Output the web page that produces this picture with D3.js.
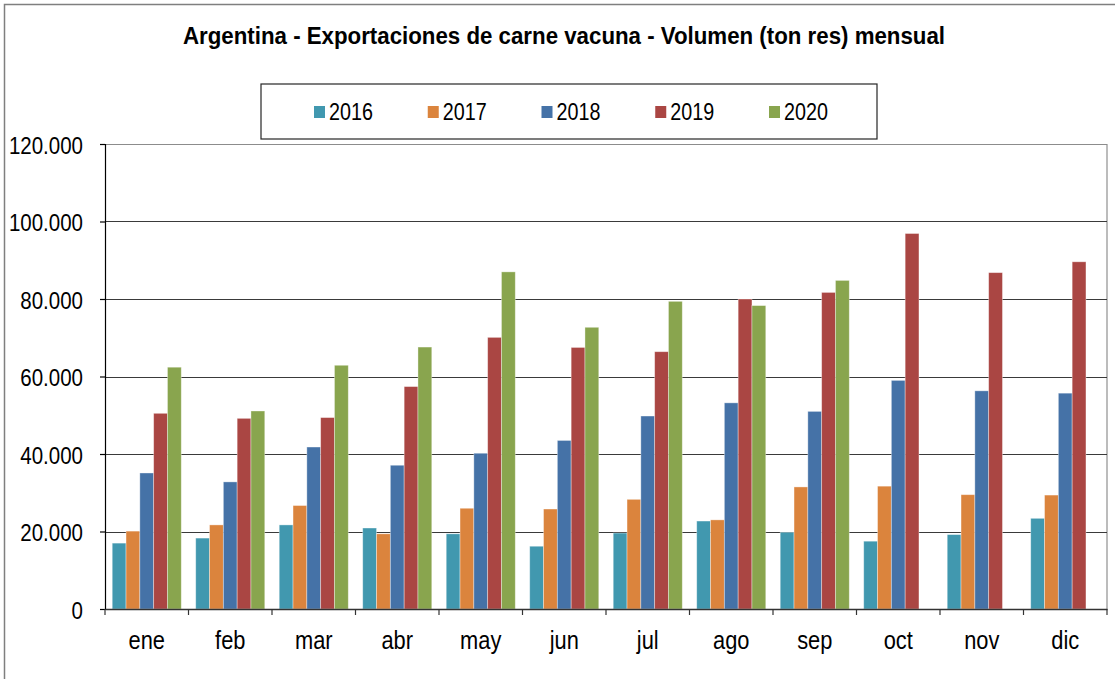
<!DOCTYPE html>
<html>
<head>
<meta charset="utf-8">
<script src="https://cdn.jsdelivr.net/npm/d3@7"></script>
<style>
  html, body { margin: 0; padding: 0; background: #fff; }
  svg { display: block; }
  text { font-family: "Liberation Sans Narrow", "Arial Narrow", "Liberation Sans", Arial, sans-serif; fill: #000; }
</style>
</head>
<body>
<svg id="chart" width="1115" height="679"></svg>
<script>
const titleText = "Argentina - Exportaciones de carne vacuna - Volumen (ton res) mensual";
const months = ["ene","feb","mar","abr","may","jun","jul","ago","sep","oct","nov","dic"];
const seriesNames = ["2016","2017","2018","2019","2020"];
const seriesColors = ["#4198AF","#DB843D","#4572A7","#AA4643","#89A54E"];
const v2016 = [17000,18300,21700,20900,19400,16200,19600,22700,19800,17500,19200,23400];
const v2017 = [20100,21700,26700,19400,26000,25800,28300,23000,31500,31700,29500,29400];
const v2018 = [35100,32800,41800,37100,40200,43500,49800,53200,51000,59000,56300,55700];
const v2019 = [50500,49200,49400,57400,70100,67500,66400,80000,81700,96900,86800,89600];
const v2020 = [62400,51100,62900,67600,87000,72700,79400,78300,84800,null,null,null];
const yTicks = [0,20000,40000,60000,80000,100000,120000];

const seriesValues = [v2016, v2017, v2018, v2019, v2020];

const svg = d3.select("#chart");
const W = 1115, H = 679;
const plot = {left: 105, right: 1107, top: 144, bottom: 609};
const FONT = '"Liberation Sans Narrow", "Arial Narrow", "Liberation Sans", Arial, sans-serif';

// condense text horizontally if a narrow face is not available
const probe = svg.append("text").attr("font-size", 100).style("font-family", FONT).text("0000000000");
const probeW = probe.node().getComputedTextLength();
probe.remove();
const narrowAvailable = probeW < 500; // narrow digits ~0.456em, regular ~0.556em
function condense(sel, ratio) {
  if (narrowAvailable) return;
  sel.each(function() {
    const w = this.getComputedTextLength();
    d3.select(this).attr("textLength", w * ratio).attr("lengthAdjust", "spacingAndGlyphs");
  });
}

// outer frame (cropped at right/bottom)
svg.append("rect").attr("x", 4.5).attr("y", 4.5).attr("width", W + 10).attr("height", H + 10)
  .attr("fill", "#fff").attr("stroke", "#7f7f7f").attr("stroke-width", 1.5);

const x0 = d3.scaleBand().domain(months).range([plot.left, plot.right]).paddingInner(0).paddingOuter(0);
const bw = x0.bandwidth();
const x1 = d3.scaleBand().domain(seriesNames).range([bw * 0.0865, bw * (1 - 0.0865)]).padding(0);
const y = d3.scaleLinear().domain([0, 120000]).range([plot.bottom, plot.top]);

const loc = d3.formatLocale({decimal: ",", thousands: ".", grouping: [3], currency: ["$", ""]});
const fmt = loc.format(",d");

// plot border (right side gray)
svg.append("line").attr("x1", plot.right).attr("x2", plot.right).attr("y1", plot.top).attr("y2", plot.bottom)
  .attr("stroke", "#a6a6a6").attr("stroke-width", 1.5);

// gridlines
svg.append("g").selectAll("line").data(yTicks.filter(d => d > 0)).join("line")
  .attr("x1", plot.left).attr("x2", plot.right)
  .attr("y1", d => Math.round(y(d)) + 0.5).attr("y2", d => Math.round(y(d)) + 0.5)
  .attr("stroke", d => d === 120000 ? "#8c8c8c" : "#3a3a3a").attr("stroke-width", 1.1);

// bars
const data = [];
months.forEach((m, i) => {
  seriesNames.forEach((s, j) => {
    const v = seriesValues[j][i];
    if (v != null) data.push({m, s, v, c: seriesColors[j]});
  });
});
svg.append("g").selectAll("rect").data(data).join("rect")
  .attr("x", d => x0(d.m) + x1(d.s))
  .attr("width", x1.bandwidth())
  .attr("y", d => y(d.v))
  .attr("height", d => y(0) - y(d.v))
  .attr("fill", d => d.c)
  .attr("stroke", "#ffffff").attr("stroke-opacity", 0.45).attr("stroke-width", 0.8);

// y axis
const yAxis = d3.axisLeft(y).tickValues(yTicks).tickFormat(fmt).tickSize(5).tickPadding(17);
const gy = svg.append("g").attr("transform", `translate(${plot.left},0)`).call(yAxis);
gy.select(".domain").attr("stroke", "#000").attr("stroke-width", 1.2);
gy.selectAll(".tick line").attr("stroke", "#000").attr("stroke-width", 1.2);
const yLabels = gy.selectAll(".tick text").attr("font-size", 24.4).attr("fill", "#000").attr("dy", "0.37em")
  .style("font-family", FONT);
condense(yLabels, 0.84);

// x axis
const xAxis = d3.axisBottom(x0).tickSize(0).tickPadding(21.5);
const gx = svg.append("g").attr("transform", `translate(0,${plot.bottom})`).call(xAxis);
gx.select(".domain").attr("stroke", "#333").attr("stroke-width", 1.5);
const xLabels = gx.selectAll(".tick text").attr("font-size", 26).attr("fill", "#000").attr("dy", "0.71em")
  .style("font-family", FONT);
condense(xLabels, 0.84);
// category separator ticks
const edges = months.map(m => x0(m)).concat([plot.right]);
svg.append("g").selectAll("line").data(edges).join("line")
  .attr("x1", d => d).attr("x2", d => d).attr("y1", plot.bottom).attr("y2", plot.bottom + 6)
  .attr("stroke", "#333").attr("stroke-width", 1.2);

// title
const title = svg.append("text").attr("x", 564).attr("y", 44).attr("text-anchor", "middle")
  .attr("font-size", 23).attr("font-weight", "bold").text(titleText);
if (!narrowAvailable) title.attr("textLength", 762).attr("lengthAdjust", "spacingAndGlyphs");

// legend
const leg = {x: 261, y: 84, w: 616, h: 55};
svg.append("rect").attr("x", leg.x).attr("y", leg.y).attr("width", leg.w).attr("height", leg.h)
  .attr("fill", "#fff").attr("stroke", "#262626").attr("stroke-width", 1.2);
const legX = d3.scalePoint().domain(seriesNames).range([314, 769]);
const li = svg.append("g").selectAll("g").data(seriesNames).join("g")
  .attr("transform", d => `translate(${legX(d)},0)`);
li.append("rect").attr("x", 0).attr("y", 106).attr("width", 11).attr("height", 12)
  .attr("fill", (d, i) => seriesColors[i]);
const legText = li.append("text").attr("x", 15).attr("y", 120).attr("font-size", 23.5).text(d => d);
condense(legText, 0.84);
</script>
</body>
</html>
